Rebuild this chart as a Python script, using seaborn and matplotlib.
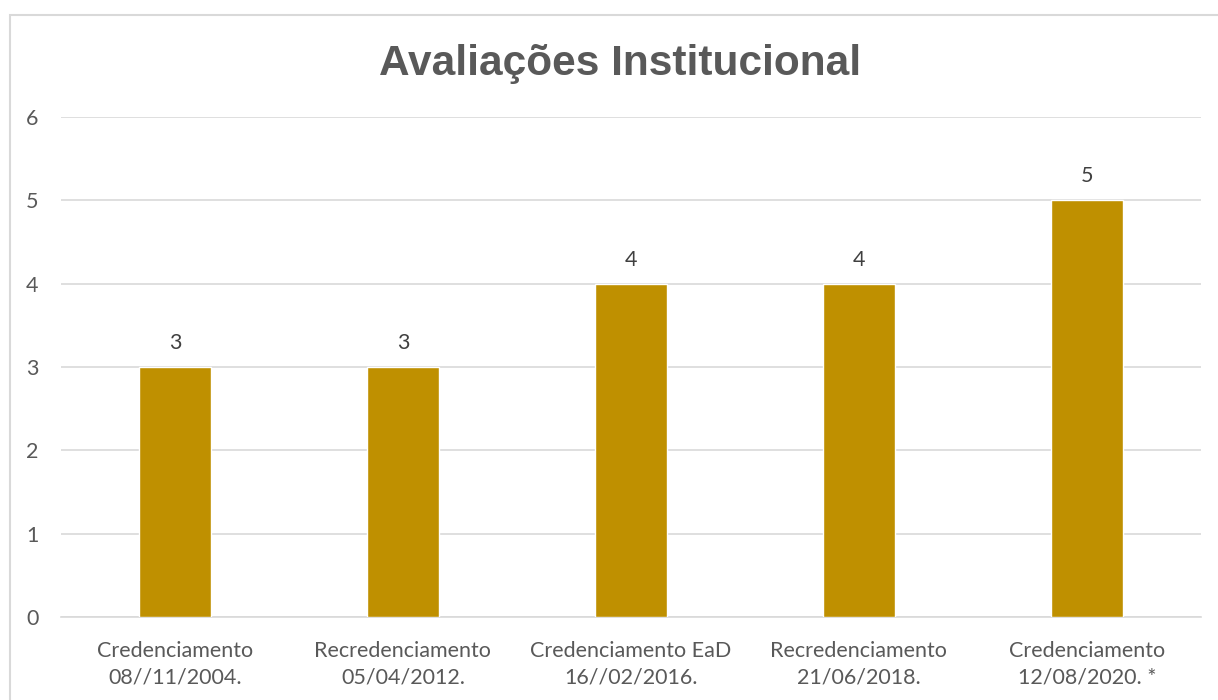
import matplotlib
matplotlib.use('Agg')
import matplotlib.pyplot as plt
import matplotlib.patches as mpatches
import seaborn as sns
import pandas as pd

# chart data
categories = ['Credenciamento\n08//11/2004.', 'Recredenciamento\n05/04/2012.',
              'Credenciamento EaD\n16//02/2016.', 'Recredenciamento\n21/06/2018.',
              'Credenciamento\n12/08/2020. *']
scores = [3, 3, 4, 4, 5]
y_ticks = [0, 1, 2, 3, 4, 5, 6]

df = pd.DataFrame({'cat': categories, 'score': scores})

sns.set_style('white')
plt.rcParams['font.family'] = ['Lato', 'DejaVu Sans']

fig = plt.figure(figsize=(12.18, 7.0), dpi=100)
ax = fig.add_axes([0.050, 0.1186, 0.936, 0.7143])

sns.barplot(data=df, x='cat', y='score', color='#BF9000', width=0.316,
            saturation=1, ax=ax, zorder=3)

ax.set_ylim(0, 6)
ax.set_yticks(y_ticks)
ax.set_xlim(-0.5, len(categories) - 0.5)
ax.grid(axis='y', color='#D9D9D9', linewidth=1.2, zorder=0)
for s in ['top', 'right', 'left']:
    ax.spines[s].set_visible(False)
ax.spines['bottom'].set_color('#D9D9D9')
ax.spines['bottom'].set_linewidth(1.2)
ax.tick_params(axis='both', length=0, colors='#595959', labelsize=15.5)
ax.tick_params(axis='x', pad=17)
ax.tick_params(axis='y', pad=16)
for lbl in ax.get_xticklabels():
    lbl.set_linespacing(1.45)
ax.set_xlabel('')
ax.set_ylabel('')

for i, v in enumerate(scores):
    ax.annotate(str(v), (i, v), xytext=(0, 10), textcoords='offset points',
                ha='center', va='bottom', fontsize=15.5, color='#404040')

fig.text(0.509, 1 - 75 / 700, 'Avaliações Institucional', ha='center', va='baseline',
         fontsize=30.5, fontweight='bold', color='#595959',
         family=['Liberation Sans', 'DejaVu Sans'])

# outer chart border
border = mpatches.Rectangle((10 / 1218, -0.05), 1.2, 1 - 15 / 700 + 0.05,
                            transform=fig.transFigure, fill=False,
                            edgecolor='#D9D9D9', linewidth=1.5)
fig.patches.append(border)

fig.savefig('out.png', dpi=100)
